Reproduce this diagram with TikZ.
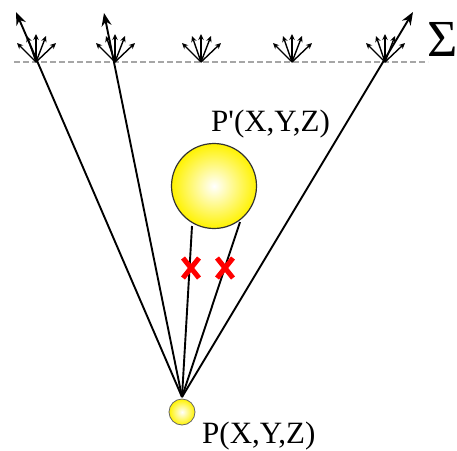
\documentclass[tikz,border=0pt]{standalone}
\usepackage{fontspec}
\newfontfamily\labfont{Liberation Serif}
\usetikzlibrary{arrows.meta,shadings,calc}
\begin{document}
\begin{tikzpicture}[x=1pt,y=-1pt,
  ray/.style={line width=1.9pt,-{Stealth[length=13pt,width=10pt]}},
  fanarrow/.style={line width=1.4pt,-{Stealth[length=6pt,width=5.5pt]}},
  plane/.style={gray!70,line width=1.5pt,dash pattern=on 6pt off 3pt},
  link/.style={line width=1.9pt},
  cross/.style={red,line width=5pt},
  lbl/.style={inner sep=0pt,font=\labfont\fontsize{31}{32}\selectfont}]
\useasboundingbox (0,0) rectangle (457,450);
% reference plane
\coordinate (pl) at (14,62);
\coordinate (pr) at (428,62);
\draw[plane] (pl) -- (pr);
\node[lbl,anchor=base west,font=\labfont\fontsize{52}{52}\selectfont] (sigma) at (427,56) {Σ};
% fan centres
\coordinate (f1) at (36,62);
\coordinate (f2) at (115,62);
\coordinate (f3) at (201,62);
\coordinate (f4) at (292,62);
\coordinate (f5) at (385,62);
\foreach \f in {f1,f2,f3,f4,f5}{
  \foreach \dx/\dy in {-19/-19,-9/-26,0/-28,10/-26,20/-19}{
    \draw[fanarrow] (\f) -- ++(\dx,\dy);
  }
}
% points
\node[circle,draw=black!60,line width=0.8pt,minimum size=26pt,inner sep=0pt,
  inner color=white,outer color=yellow!90!orange] (P) at (182,412) {};
\node[circle,draw=black!80,line width=1.2pt,minimum size=85pt,inner sep=0pt,
  inner color=white,outer color=yellow!90!orange] (Pp) at (214,186) {};
\coordinate (O) at (182,397);
% rays
\coordinate (t1) at (16,12);
\coordinate (t2) at (104,13);
\coordinate (t3) at (413,12);
\draw[ray] (O) -- (t1);
\draw[ray] (O) -- (t2);
\draw[ray] (O) -- (t3);
% blocked rays
\coordinate (b1) at (192,226);
\coordinate (b2) at (240,222);
\draw[link] (O) -- (b1);
\draw[link] (O) -- (b2);
% crosses
\coordinate (x1) at (191,268);
\coordinate (x2) at (225,268);
\foreach \c in {x1,x2}{
  \draw[cross] ($(\c)+(-8,-10)$) -- ($(\c)+(8,10)$);
  \draw[cross] ($(\c)+(8,-10)$) -- ($(\c)+(-8,10)$);
}
% labels
\node[lbl,anchor=base west] (lPp) at (211,131) {P'(X,Y,Z)};
\node[lbl,anchor=base west] (lP) at (202,443) {P(X,Y,Z)};
\end{tikzpicture}
\end{document}
